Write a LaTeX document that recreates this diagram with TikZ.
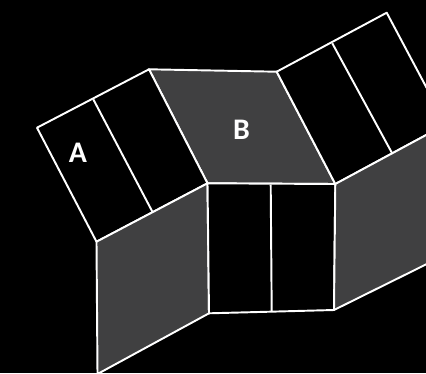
\documentclass[tikz,border=0pt]{standalone}
\usepackage{fontspec}
\setsansfont{Carlito}
\definecolor{wallgray}{RGB}{64,64,65}
\usepackage{tikz}
\usetikzlibrary{positioning}

\begin{document}
\begin{tikzpicture}[
    x=0.02cm, y=-0.02cm,
    every node/.style={font=\sffamily\bfseries\fontsize{17}{20}\selectfont},
    edge/.style={draw=white, line width=1.1pt, line join=round},
    wall/.style={edge, fill=wallgray},
    bay/.style={edge, fill=black},
    lbl/.style={text=white, inner sep=0pt},
]

% background and frame
\fill[black] (0,0) rectangle (426,373);
\useasboundingbox (0,0) rectangle (426,373);
\clip (0,0) rectangle (426,373);

% corners
\coordinate (aTL) at (37,127.7);
\coordinate (aTR) at (149,69.3);
\coordinate (aBR) at (207.5,183.3);
\coordinate (aBL) at (96.5,241.7);
\coordinate (bTR) at (276.7,71.7);
\coordinate (bBR) at (335.3,184);
\coordinate (rTR) at (386.7,12.7);
\coordinate (rBR) at (446,124.3);
\coordinate (cBL) at (209,313.3);
\coordinate (cBR) at (334,310);
\coordinate (lBL) at (97.5,374);
\coordinate (gBR) at (446,254.5);

% top row
\draw[wall] (aTR) -- (bTR) -- (bBR) -- (aBR) -- cycle;
\draw[bay] (aTL) -- (aTR) -- (aBR) -- (aBL) -- cycle;
\draw[edge] (93.3,99.3) -- (152.7,212.3);
\draw[bay] (bTR) -- (rTR) -- (rBR) -- (bBR) -- cycle;
\draw[edge] (332.3,43.3) -- (392.7,154.3);

% bottom row
\draw[wall] (aBL) -- (aBR) -- (cBL) -- (lBL) -- cycle;
\draw[bay] (aBR) -- (bBR) -- (cBR) -- (cBL) -- cycle;
\draw[edge] (270.7,184.5) -- (271.7,311.6);
\draw[wall] (bBR) -- (rBR) -- (gBR) -- (cBR) -- cycle;

% labels
\node[lbl] (labelA) at (78,153) {A};
\node[lbl] (labelB) at (241.5,129.5) {B};

\end{tikzpicture}
\end{document}
